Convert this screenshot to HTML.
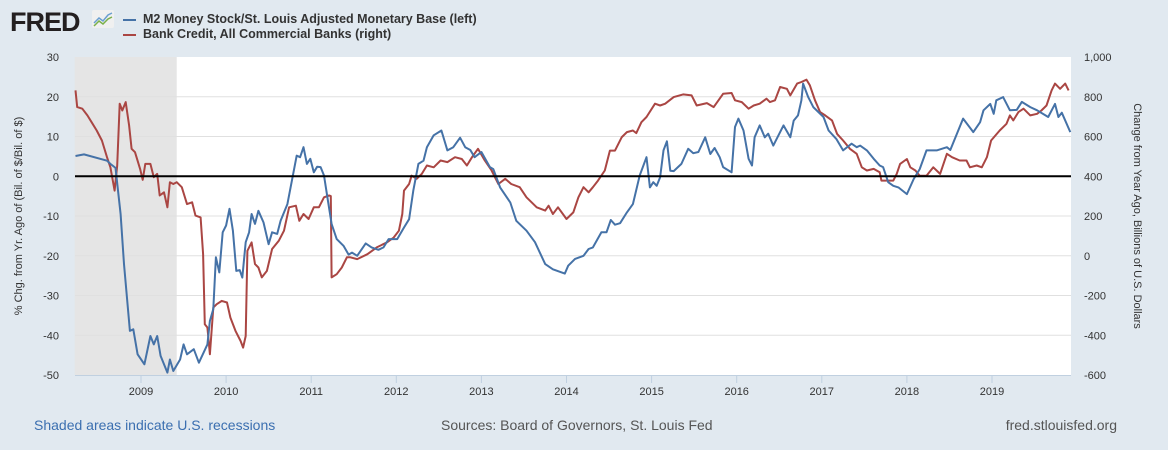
<!DOCTYPE html>
<html><head><meta charset="utf-8"><style>
body{margin:0;width:1168px;height:450px;background:#e1e9f0;font-family:"Liberation Sans",sans-serif;overflow:hidden;position:relative}
.lg{position:absolute;left:143px;font-size:12.5px;color:#333;font-weight:bold}
.sw{position:absolute;left:123px;width:13px;height:2px}
.ft{position:absolute;top:417px;font-size:14px;color:#555}
</style></head><body>
<div style="position:absolute;left:10px;top:7px;font-size:27px;font-weight:900;color:#231f20;letter-spacing:-1px">FRED</div>
<svg style="position:absolute;left:92px;top:10px" width="22" height="18"><rect x="0" y="0" width="22" height="18" fill="#f0f0f0" rx="2"/><polyline points="2,13 7,8 11,11 16,5 20,3" fill="none" stroke="#6a9fd0" stroke-width="1.5"/><polyline points="2,16 7,11 11,14 16,9 20,7" fill="none" stroke="#7ab04a" stroke-width="1.5"/></svg>
<div class="sw" style="top:19px;background:#4572a7"></div>
<div class="lg" style="top:12px">M2 Money Stock/St. Louis Adjusted Monetary Base (left)</div>
<div class="sw" style="top:34px;background:#aa4643"></div>
<div class="lg" style="top:27px">Bank Credit, All Commercial Banks (right)</div>
<svg id="chart" width="1168" height="450" style="position:absolute;left:0;top:0"></svg>
<div class="ft" style="left:34px;color:#3b6fb0">Shaded areas indicate U.S. recessions</div>
<div class="ft" style="left:441px">Sources: Board of Governors, St. Louis Fed</div>
<div class="ft" style="right:51px">fred.stlouisfed.org</div>
<script>
const leftTicks=[30,20,10,0,-10,-20,-30,-40,-50];
const rightTicks=["1,000","800","600","400","200","0","-200","-400","-600"];
const yearTicks=[2009,2010,2011,2012,2013,2014,2015,2016,2017,2018,2019];
const recession=[2008.22,2009.42];
const m2Dates=[2008.23,2008.33,2008.60,2008.64,2008.70,2008.76,2008.80,2008.87,2008.91,2008.96,2009.04,2009.11,2009.15,2009.19,2009.23,2009.31,2009.34,2009.38,2009.46,2009.50,2009.54,2009.62,2009.68,2009.78,2009.81,2009.85,2009.88,2009.92,2009.96,2010.00,2010.04,2010.08,2010.12,2010.16,2010.19,2010.23,2010.27,2010.30,2010.34,2010.38,2010.44,2010.50,2010.54,2010.60,2010.64,2010.72,2010.83,2010.87,2010.91,2010.95,2010.99,2011.03,2011.07,2011.11,2011.15,2011.19,2011.24,2011.30,2011.38,2011.44,2011.48,2011.54,2011.64,2011.71,2011.79,2011.85,2011.91,2012.01,2012.09,2012.15,2012.20,2012.26,2012.32,2012.36,2012.44,2012.53,2012.60,2012.67,2012.75,2012.81,2012.87,2012.92,2013.00,2013.10,2013.14,2013.22,2013.34,2013.41,2013.53,2013.63,2013.75,2013.84,2013.98,2014.02,2014.10,2014.20,2014.26,2014.31,2014.41,2014.47,2014.52,2014.57,2014.63,2014.71,2014.78,2014.86,2014.94,2014.98,2015.02,2015.06,2015.10,2015.14,2015.18,2015.22,2015.26,2015.35,2015.43,2015.49,2015.55,2015.63,2015.69,2015.74,2015.80,2015.84,2015.94,2015.98,2016.02,2016.08,2016.14,2016.18,2016.21,2016.27,2016.33,2016.37,2016.43,2016.55,2016.63,2016.67,2016.72,2016.76,2016.78,2016.84,2016.90,2017.02,2017.08,2017.17,2017.25,2017.35,2017.41,2017.45,2017.53,2017.61,2017.68,2017.72,2017.78,2017.84,2017.90,2018.00,2018.08,2018.15,2018.23,2018.35,2018.47,2018.51,2018.66,2018.78,2018.86,2018.90,2018.98,2019.02,2019.05,2019.13,2019.21,2019.29,2019.35,2019.45,2019.53,2019.66,2019.74,2019.78,2019.82,2019.92];
const m2Values=[5.1,5.5,3.9,3.1,2.1,-9.5,-22.1,-38.9,-38.5,-44.8,-47.3,-40.2,-42.3,-40.2,-45.2,-49.4,-46.1,-49.0,-46.1,-42.3,-44.8,-43.5,-46.9,-42.3,-36.4,-33.4,-20.4,-24.2,-14.1,-12.4,-8.2,-13.7,-23.8,-23.6,-25.5,-16.6,-14.1,-9.5,-12.0,-8.7,-11.6,-17.1,-14.1,-14.5,-11.2,-7.0,5.2,4.8,7.3,3.1,4.4,1.0,2.4,2.3,0.2,-5.3,-12.0,-15.8,-17.5,-19.7,-19.2,-20.0,-16.9,-17.9,-18.5,-17.9,-15.8,-15.8,-12.9,-10.8,-3.6,3.1,3.9,7.3,10.3,11.5,6.5,7.3,9.7,7.3,6.6,4.8,6.1,2.3,1.8,-2.8,-6.6,-11.2,-13.7,-16.6,-22.1,-23.4,-24.5,-22.5,-20.8,-20.0,-18.3,-17.9,-14.1,-14.1,-11.0,-12.2,-11.8,-9.1,-7.0,0.2,4.8,-2.8,-1.5,-2.4,-0.3,6.5,8.8,1.4,1.3,3.1,6.9,5.8,6.1,9.8,5.6,7.1,4.8,2.3,1.0,12.4,14.5,11.5,4.4,2.7,9.8,12.8,9.8,10.7,7.7,12.8,9.8,14.0,15.3,19.1,23.3,19.9,17.4,14.9,11.5,9.4,6.5,8.2,7.3,7.7,6.5,4.4,2.7,2.3,-1.5,-2.4,-2.8,-4.5,-0.7,1.8,6.5,6.5,7.3,6.6,14.5,11.1,13.6,16.6,18.2,15.7,19.1,19.9,16.6,16.7,18.7,17.4,16.6,14.9,18.2,14.9,16.0,11.1];
const bcDates=[2008.23,2008.25,2008.31,2008.37,2008.42,2008.48,2008.54,2008.60,2008.64,2008.69,2008.72,2008.75,2008.78,2008.82,2008.86,2008.89,2008.93,2008.99,2009.02,2009.05,2009.11,2009.15,2009.19,2009.22,2009.27,2009.31,2009.34,2009.38,2009.42,2009.48,2009.54,2009.60,2009.64,2009.70,2009.73,2009.75,2009.78,2009.81,2009.85,2009.89,2009.95,2010.01,2010.05,2010.11,2010.17,2010.20,2010.23,2010.25,2010.30,2010.34,2010.38,2010.42,2010.48,2010.54,2010.62,2010.68,2010.74,2010.82,2010.86,2010.91,2010.97,2011.03,2011.09,2011.15,2011.21,2011.23,2011.24,2011.30,2011.36,2011.42,2011.46,2011.54,2011.66,2011.77,2011.89,2011.97,2012.03,2012.07,2012.09,2012.15,2012.18,2012.24,2012.30,2012.36,2012.44,2012.52,2012.60,2012.69,2012.77,2012.83,2012.89,2012.96,2013.04,2013.12,2013.20,2013.28,2013.35,2013.45,2013.53,2013.59,2013.65,2013.75,2013.79,2013.84,2013.90,2014.00,2014.08,2014.14,2014.20,2014.26,2014.31,2014.37,2014.45,2014.51,2014.57,2014.65,2014.71,2014.78,2014.82,2014.88,2014.94,2015.04,2015.10,2015.16,2015.26,2015.37,2015.47,2015.53,2015.65,2015.73,2015.84,2015.94,2015.98,2016.06,2016.14,2016.20,2016.27,2016.35,2016.39,2016.45,2016.51,2016.59,2016.63,2016.71,2016.76,2016.82,2016.86,2016.92,2016.98,2017.04,2017.12,2017.18,2017.25,2017.33,2017.41,2017.47,2017.53,2017.61,2017.68,2017.70,2017.78,2017.84,2017.88,2017.92,2018.00,2018.04,2018.10,2018.15,2018.23,2018.31,2018.39,2018.47,2018.53,2018.62,2018.70,2018.74,2018.82,2018.88,2018.94,2018.99,2019.04,2019.09,2019.17,2019.21,2019.25,2019.31,2019.37,2019.45,2019.53,2019.58,2019.64,2019.70,2019.74,2019.80,2019.86,2019.90];
const bcValues=[832,748,740,706,672,630,580,496,445,328,454,765,731,773,656,538,521,437,382,462,462,395,412,303,319,244,370,361,370,345,260,269,202,193,8,-345,-361,-496,-261,-244,-227,-235,-311,-378,-429,-462,-404,25,67,-42,-59,-109,-76,34,76,126,244,252,176,210,185,244,244,294,303,300,-109,-93,-59,-8,-8,-17,8,42,67,92,126,210,328,361,403,387,412,454,445,479,471,496,487,454,496,538,479,429,361,387,361,345,294,269,244,227,252,210,244,185,218,294,345,319,345,378,429,529,529,597,622,630,617,672,698,765,756,765,798,812,807,756,768,748,815,819,782,773,740,756,765,790,773,782,849,840,807,866,874,886,857,782,723,706,681,613,580,538,513,445,429,437,420,378,378,378,412,462,487,445,429,403,403,445,412,513,496,479,479,445,454,445,496,580,605,630,664,706,681,723,740,706,714,731,756,832,866,840,866,832];

const NS='http://www.w3.org/2000/svg';
const svg=document.getElementById('chart');
const L=75,R=1071,T=57,B=375;
const xS=d=>141+(d-2009)*85.1;
const yL=v=>T+(30-v)*(B-T)/80;
const yR=v=>T+(1000-v)*(B-T)/1600;
function mk(tag,attrs){const e=document.createElementNS(NS,tag);for(const k in attrs)e.setAttribute(k,attrs[k]);svg.appendChild(e);return e;}
let e=mk('rect',{x:L,y:T,width:R-L,height:B-T,fill:'#fff'});


e=mk('rect',{x:xS(recession[0]),y:T,width:xS(recession[1])-xS(recession[0]),height:B-T,fill:'#e5e5e5'});


leftTicks.forEach((v,i)=>{
  const y=yL(v);
  if(v!==0&&v!==-50&&v!==30){e=mk('line',{x1:L,x2:R,y1:y,y2:y,stroke:'#e0e0e0','stroke-width':1});
  
  }
  e=mk('text',{x:59,y:y+4,'text-anchor':'end','font-size':11,fill:'#333'});e.textContent=v;
  
  
  e=mk('text',{x:1084,y:y+4,'text-anchor':'start','font-size':11,fill:'#333'});e.textContent=rightTicks[i];
  
  
});
e=mk('line',{x1:L,x2:R,y1:B+0.5,y2:B+0.5,stroke:'#c0d0e0','stroke-width':1});


yearTicks.forEach(yr=>{
  const x=xS(yr);
  e=mk('line',{x1:x,x2:x,y1:B,y2:B+8,stroke:'#c0d0e0','stroke-width':1});
  
  
  e=mk('text',{x:x,y:B+20,'text-anchor':'middle','font-size':11,fill:'#333'});e.textContent=yr;
  
  
});
function line(dates,vals,ys,color,name){
  const p=dates.map((d,i)=>xS(d).toFixed(1)+','+ys(vals[i]).toFixed(1)).join(' ');
  const el=mk('polyline',{points:p,fill:'none',stroke:color,'stroke-width':2,'stroke-linejoin':'round'});
  
  
}
line(bcDates,bcValues,yR,'#aa4643','bank-credit-line');
line(m2Dates,m2Values,yL,'#4572a7','m2-ratio-line');
e=mk('line',{x1:L,x2:R,y1:yL(0),y2:yL(0),stroke:'#000','stroke-width':2});


e=mk('text',{x:0,y:0,'text-anchor':'middle','font-size':11,fill:'#333',transform:'translate(22,216) rotate(-90)'});e.textContent='% Chg. from Yr. Ago of (Bil. of $/Bil. of $)';


e=mk('text',{x:0,y:0,'text-anchor':'middle','font-size':11,fill:'#333',transform:'translate(1134,216) rotate(90)'});e.textContent='Change from Year Ago, Billions of U.S. Dollars';


</script>
</body></html>
